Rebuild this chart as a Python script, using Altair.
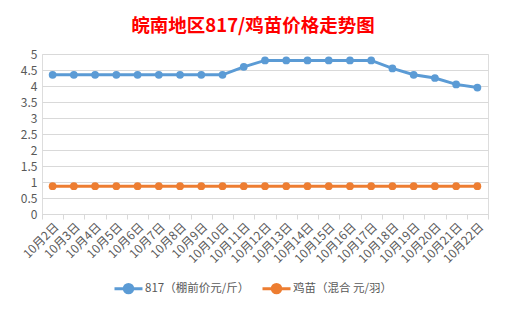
import altair as alt
import pandas as pd

dates = ["10月2日", "10月3日", "10月4日", "10月5日", "10月6日", "10月7日", "10月8日",
         "10月9日", "10月10日", "10月11日", "10月12日", "10月13日", "10月14日",
         "10月15日", "10月16日", "10月17日", "10月18日", "10月19日", "10月20日",
         "10月21日", "10月22日"]
price_817 = [4.35, 4.35, 4.35, 4.35, 4.35, 4.35, 4.35, 4.35, 4.35, 4.6,
             4.8, 4.8, 4.8, 4.8, 4.8, 4.8, 4.55, 4.35, 4.25, 4.05, 3.95]
price_chick = [0.87] * 21
series_names = ["817（棚前价元/斤）", "鸡苗（混合 元/羽）"]
colors = ["#5B9BD5", "#ED7D31"]

rows = []
for d, v in zip(dates, price_817):
    rows.append({"date": d, "series": series_names[0], "value": v})
for d, v in zip(dates, price_chick):
    rows.append({"date": d, "series": series_names[1], "value": v})
df = pd.DataFrame(rows)

FONT = "Noto Sans CJK SC"
legend_symbol = "M-1,0L1,0M-0.3,0A0.3,0.3 0 1,1 0.3,0A0.3,0.3 0 1,1 -0.3,0Z"

base = alt.Chart(df).encode(
    x=alt.X("date:N", sort=dates, title=None,
            scale=alt.Scale(type="band", domain=dates, paddingInner=0, paddingOuter=0),
            axis=alt.Axis(labelAngle=-45, labelFont=FONT, labelFontSize=12,
                          labelColor="#595959", domainColor="#D9D9D9",
                          tickColor="#D9D9D9", tickSize=5, tickBand="extent",
                          grid=False, labelPadding=2)),
    y=alt.Y("value:Q", title=None,
            scale=alt.Scale(domain=[0, 5], nice=False),
            axis=alt.Axis(values=[0, 0.5, 1, 1.5, 2, 2.5, 3, 3.5, 4, 4.5, 5],
                          format="~g",
                          labelFont=FONT, labelFontSize=12, labelColor="#595959",
                          domain=False, ticks=False, gridColor="#D9D9D9",
                          labelPadding=5)),
    color=alt.Color("series:N",
                    scale=alt.Scale(domain=series_names, range=colors),
                    legend=alt.Legend(title=None, orient="none", direction="horizontal",
                                      legendX=71, legendY=219,
                                      symbolType=legend_symbol, symbolSize=784,
                                      symbolStrokeWidth=3, symbolFillColor=None,
                                      labelFont=FONT, labelFontSize=11.5,
                                      labelColor="#595959", labelOffset=1,
                                      columnPadding=6)),
)

lines = base.mark_line(strokeWidth=3)
points = base.mark_point(filled=True, size=60, opacity=1)

chart = alt.layer(lines, points).properties(
    width=446, height=160,
    autosize=alt.AutoSizeParams(type="none"),
    padding={"left": 42, "top": 54, "right": 17, "bottom": 97},
    title=alt.TitleParams("皖南地区817/鸡苗价格走势图", font=FONT, fontSize=18.5,
                          fontWeight="bold", color="#FF0000", anchor="middle",
                          dx=-12, offset=13),
).configure_view(stroke=None).configure(background="white")

chart.save("out.html", embed_options={"renderer": "svg", "actions": False})
